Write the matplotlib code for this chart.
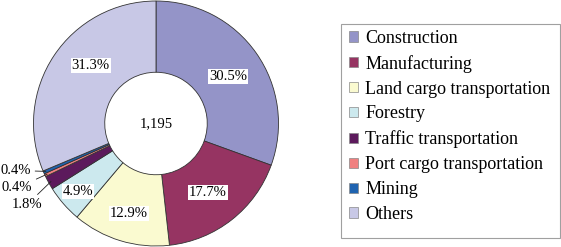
import numpy as np
import matplotlib.pyplot as plt
from matplotlib.patches import Patch, Rectangle

plt.rcParams['font.family'] = 'serif'
plt.rcParams['font.serif'] = ['Liberation Serif', 'DejaVu Serif']

# data
categories = ['Construction', 'Manufacturing', 'Land cargo transportation', 'Forestry',
              'Traffic transportation', 'Port cargo transportation', 'Mining', 'Others']
shares = [30.5, 17.7, 12.9, 4.9, 1.8, 0.4, 0.4, 31.3]
total_label = '1,195'
colors = ['#9494c8', '#963462', '#fafad0', '#cce9ee', '#5c1a5c', '#f08080', '#1f63b0', '#c8c8e6']

fig = plt.figure(figsize=(5.61, 2.47), dpi=100)
W, H = 561, 247
# axes square in pixels, centre of donut at (156, 123.5)
ax = fig.add_axes([31 / W, -1.5 / H, 250 / W, 250 / H])

R = 0.98
r_in = 0.41
wedges, _ = ax.pie(shares, colors=colors, startangle=90, counterclock=False, radius=R,
                   wedgeprops=dict(width=R - r_in, edgecolor='#333333', linewidth=0.6))
ax.set_xlim(-1, 1)
ax.set_ylim(-1, 1)
ax.set_aspect('equal')
ax.axis('off')

ax.text(0, 0, total_label, ha='center', va='center', fontsize=10.5)

# inside labels (radius factor, angle shift in degrees)
inside = {0: (0.69, -2), 1: (0.69, -1), 2: (0.75, 0), 3: (0.83, 0), 7: (0.70, -8)}
for i, (fac, shift) in inside.items():
    w = wedges[i]
    mid = np.deg2rad((w.theta1 + w.theta2) / 2 + shift)
    ax.text(fac * np.cos(mid), fac * np.sin(mid), f'{shares[i]:.1f}%', ha='center', va='center',
            fontsize=10.5, bbox=dict(facecolor='white', edgecolor='none', pad=0.6))

# outside labels with leader lines
outside = {6: (-1.0, -0.376), 5: (-0.99, -0.515), 4: (-0.91, -0.65)}
for i, (tx, ty) in outside.items():
    w = wedges[i]
    mid = np.deg2rad((w.theta1 + w.theta2) / 2)
    px, py = 0.96 * np.cos(mid), 0.96 * np.sin(mid)
    ax.annotate(f'{shares[i]:.1f}%', xy=(px, py), xytext=(tx, ty), ha='right', va='center',
                fontsize=10.5, annotation_clip=False,
                arrowprops=dict(arrowstyle='-', color='#222222', lw=0.6, shrinkA=1, shrinkB=0))

# legend (frame drawn separately, the box has extra room at the bottom)
handles = [Patch(facecolor=c, edgecolor='#888888', linewidth=0.5) for c in colors]
leg = fig.legend(handles, categories, loc='upper left', bbox_to_anchor=(343 / W, 1 - 24 / H),
                 fontsize=13.0, frameon=False, handlelength=0.52, handleheight=0.52,
                 handletextpad=0.4, labelspacing=0.44, borderpad=0.32, borderaxespad=0)
fig.patches.append(Rectangle((341 / W, 1 - 238 / H), 219 / W, 214 / H, transform=fig.transFigure,
                             facecolor='none', edgecolor='#a0a0a0', linewidth=0.8))

fig.savefig('out.png', dpi=100)
